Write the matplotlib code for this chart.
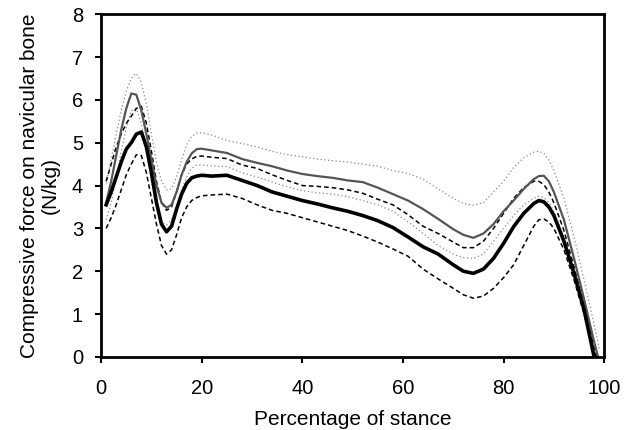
import matplotlib
matplotlib.use("Agg")
import matplotlib.pyplot as plt

plt.rcParams['font.family'] = ['Liberation Sans', 'DejaVu Sans']

stance = [1, 2, 3, 4, 5, 6, 7, 8, 9, 10, 11, 12, 13, 14, 15, 16, 17, 18, 19, 20,
          22, 25, 28, 31, 34, 37, 40, 43, 46, 49, 52, 55, 58, 61, 64, 67, 70, 72,
          74, 76, 78, 80, 82, 84, 86, 87, 88, 89, 90, 92, 94, 96, 98, 99]

mean_black = [3.55, 3.85, 4.2, 4.55, 4.85, 5.0, 5.2, 5.25, 4.9, 4.3, 3.6, 3.1, 2.92, 3.05, 3.45, 3.8, 4.05, 4.18, 4.22, 4.24,
              4.22, 4.24, 4.12, 4.0, 3.85, 3.75, 3.65, 3.57, 3.48, 3.40, 3.30, 3.18, 3.02, 2.80, 2.57, 2.40, 2.15, 2.0,
              1.95, 2.05, 2.3, 2.65, 3.04, 3.35, 3.58, 3.65, 3.62, 3.5, 3.3, 2.7, 1.95, 1.1, 0.0, -0.4]

sd_black_upper = [4.1, 4.5, 4.9, 5.2, 5.45, 5.62, 5.8, 5.85, 5.45, 4.8, 4.1, 3.6, 3.42, 3.5, 3.85, 4.25, 4.5, 4.62, 4.68, 4.69,
                  4.66, 4.63, 4.48, 4.4, 4.25, 4.12, 4.0, 3.98, 3.95, 3.9, 3.82, 3.68, 3.55, 3.32, 3.05, 2.88, 2.68, 2.55,
                  2.55, 2.7, 3.0, 3.35, 3.7, 3.95, 4.1, 4.1, 4.02, 3.85, 3.6, 2.95, 2.1, 1.2, 0.2, -0.2]

sd_black_lower = [3.0, 3.25, 3.55, 3.9, 4.25, 4.5, 4.72, 4.7, 4.3, 3.7, 3.1, 2.6, 2.4, 2.5, 2.85, 3.25, 3.5, 3.65, 3.72, 3.76,
                  3.78, 3.80, 3.7, 3.55, 3.42, 3.35, 3.25, 3.15, 3.05, 2.95, 2.82, 2.68, 2.52, 2.35, 2.05, 1.82, 1.6, 1.45,
                  1.37, 1.42, 1.6, 1.85, 2.15, 2.6, 3.05, 3.2, 3.22, 3.15, 3.0, 2.5, 1.8, 1.0, 0.15, -0.2]

mean_grey = [3.6, 4.1, 4.7, 5.3, 5.8, 6.15, 6.12, 5.75, 5.2, 4.6, 4.0, 3.6, 3.48, 3.55, 3.85, 4.25, 4.55, 4.75, 4.85, 4.86,
             4.82, 4.76, 4.62, 4.53, 4.45, 4.35, 4.27, 4.22, 4.18, 4.12, 4.08, 3.95, 3.8, 3.65, 3.45, 3.22, 2.98, 2.85,
             2.78, 2.88, 3.1, 3.4, 3.65, 3.92, 4.15, 4.22, 4.23, 4.1, 3.85, 3.2, 2.3, 1.35, 0.35, -0.1]

sd_grey_upper = [4.05, 4.6, 5.2, 5.75, 6.2, 6.5, 6.62, 6.4, 5.9, 5.2, 4.55, 4.1, 3.9, 3.92, 4.2, 4.6, 4.95, 5.15, 5.22, 5.23,
                 5.18, 5.05, 4.98, 4.9, 4.8, 4.72, 4.67, 4.62, 4.58, 4.55, 4.5, 4.45, 4.35, 4.28, 4.15, 3.92, 3.7, 3.58,
                 3.54, 3.6, 3.85, 4.1, 4.42, 4.65, 4.78, 4.8, 4.75, 4.6, 4.35, 3.7, 2.8, 1.8, 0.75, 0.2]

sd_grey_lower = [3.2, 3.6, 4.2, 4.8, 5.35, 5.75, 5.8, 5.45, 4.85, 4.1, 3.5, 3.15, 3.08, 3.2, 3.5, 3.9, 4.2, 4.4, 4.48, 4.48,
                 4.46, 4.44, 4.3, 4.2, 4.08, 3.97, 3.88, 3.83, 3.8, 3.74, 3.65, 3.55, 3.4, 3.15, 2.88, 2.6, 2.4, 2.32,
                 2.3, 2.4, 2.7, 3.0, 3.3, 3.55, 3.7, 3.75, 3.72, 3.6, 3.4, 2.8, 2.0, 1.1, 0.15, -0.2]

x_ticks = [0, 20, 40, 60, 80, 100]
y_ticks = [0, 1, 2, 3, 4, 5, 6, 7, 8]

fig = plt.figure(figsize=(6.32, 4.30), dpi=100)
ax = fig.add_axes([0.160, 0.170, 0.796, 0.797])

ax.plot(stance, sd_grey_upper, color='#888888', lw=0.9, ls=(0, (1, 2)))
ax.plot(stance, sd_grey_lower, color='#888888', lw=0.9, ls=(0, (1, 2)))
ax.plot(stance, sd_black_upper, color='black', lw=1.1, ls=(0, (3, 2)))
ax.plot(stance, sd_black_lower, color='black', lw=1.1, ls=(0, (3, 2)))
ax.plot(stance, mean_grey, color='#555555', lw=1.6)
ax.plot(stance, mean_black, color='black', lw=2.6)

ax.set_xlim(0, 100)
ax.set_ylim(0, 8)
ax.set_xticks(x_ticks)
ax.set_yticks(y_ticks)
ax.tick_params(direction='out', length=4, width=1.5, labelsize=14.5)
ax.tick_params(axis='y', pad=9)
ax.tick_params(axis='x', pad=12)
for s in ax.spines.values():
    s.set_linewidth(2.0)

ax.set_xlabel('Percentage of stance', fontsize=15)
ax.set_ylabel('Compressive force on navicular bone\n(N/kg)', fontsize=15, linespacing=1.15)
ax.yaxis.set_label_coords(-0.082, 0.5)
ax.xaxis.set_label_coords(0.5, -0.155)

fig.savefig('out.png', dpi=100)
